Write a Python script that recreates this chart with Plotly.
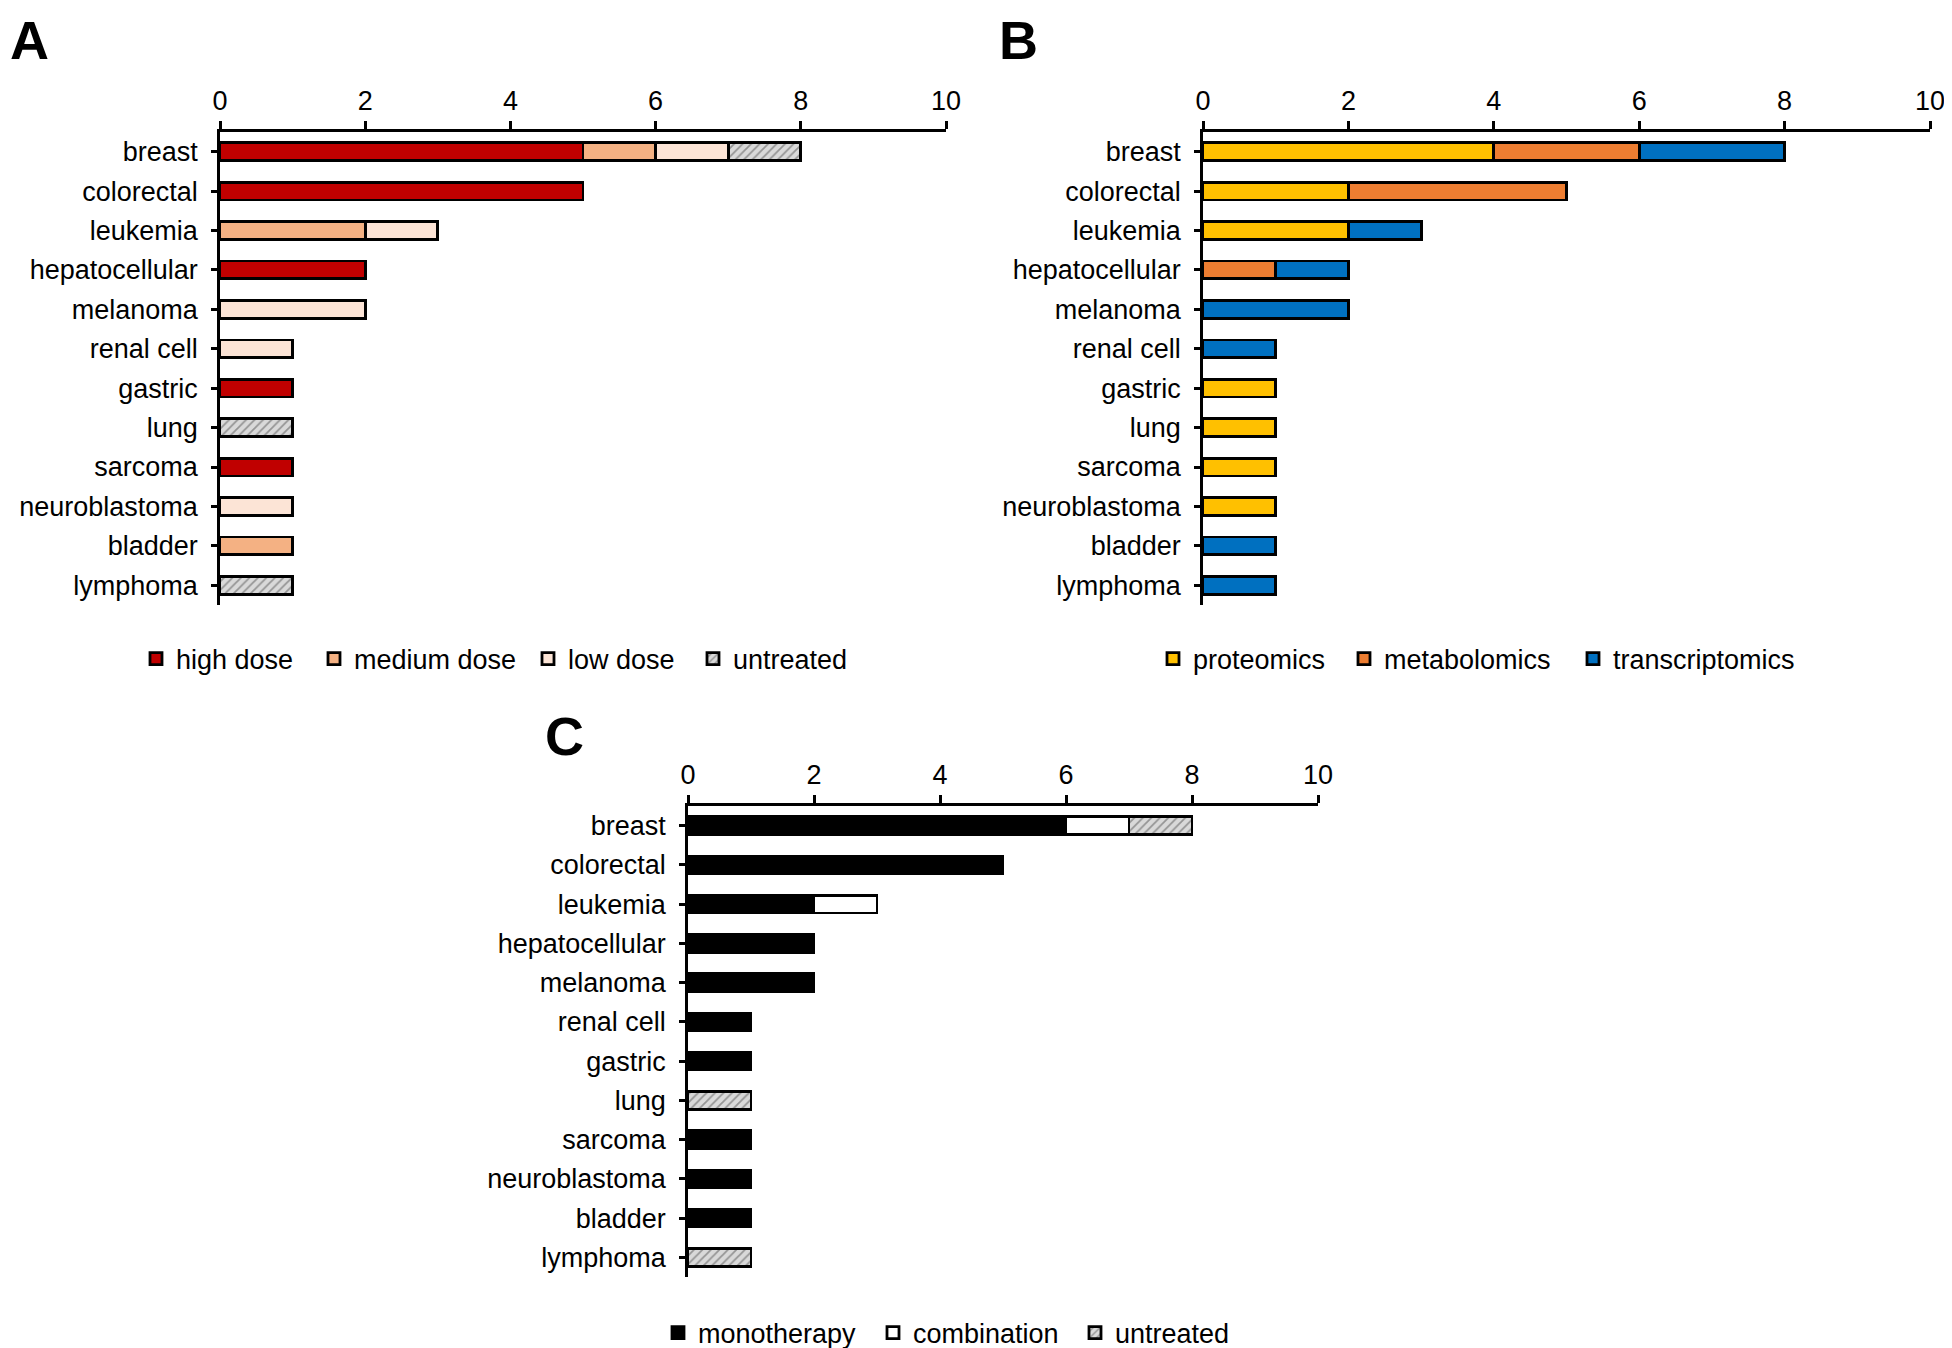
import plotly.graph_objects as go

cancers = ['breast', 'colorectal', 'leukemia', 'hepatocellular', 'melanoma', 'renal cell',
           'gastric', 'lung', 'sarcoma', 'neuroblastoma', 'bladder', 'lymphoma']

# panel A - dose
high_dose = [5, 5, 0, 2, 0, 0, 1, 0, 1, 0, 0, 0]
medium_dose = [1, 0, 2, 0, 0, 0, 0, 0, 0, 0, 1, 0]
low_dose = [1, 0, 1, 0, 2, 1, 0, 0, 0, 1, 0, 0]
untreated_a = [1, 0, 0, 0, 0, 0, 0, 1, 0, 0, 0, 1]

# panel B - omics
proteomics = [4, 2, 2, 0, 0, 0, 1, 1, 1, 1, 0, 0]
metabolomics = [2, 3, 0, 1, 0, 0, 0, 0, 0, 0, 0, 0]
transcriptomics = [2, 0, 1, 1, 2, 1, 0, 0, 0, 0, 1, 1]

# panel C - therapy
monotherapy = [6, 5, 2, 2, 2, 1, 1, 0, 1, 1, 1, 0]
combination = [1, 0, 1, 0, 0, 0, 0, 0, 0, 0, 0, 0]
untreated_c = [1, 0, 0, 0, 0, 0, 0, 1, 0, 0, 0, 1]

x_ticks = [0, 2, 4, 6, 8, 10]

# page body has an 8px margin; the figure is allowed to run past the window edge
PAD = 8
W, H = 1952 - PAD, 1348 - PAD
font = 'Liberation Sans, Arial, sans-serif'
outline = dict(color='black', width=2.8)
hatch = dict(shape='/', fgcolor='#505050', bgcolor='#d9d9d9', size=6, solidity=0.3)


def px(x):
    return (x - PAD) / W


def py(y):
    return 1 - (y - PAD) / H


def nz(vals):
    # zero-length bars would still draw an outline, so drop them
    return [v if v else None for v in vals]


legend_count = 0


def add_bar(fig, name, vals, color, n, key_x, key_y, pattern=None):
    # every legend entry gets its own legend box so it can sit where the original has it
    global legend_count
    legend_count += 1
    leg = 'legend' if legend_count == 1 else 'legend%d' % legend_count
    ax = '' if n == 1 else str(n)
    marker = dict(color=color, line=outline)
    if pattern:
        marker['pattern'] = pattern
    fig.add_trace(go.Bar(
        x=nz(vals), y=cancers, orientation='h', name=name, marker=marker,
        width=0.45, xaxis='x' + ax, yaxis='y' + ax, legend=leg, showlegend=True))
    fig.update_layout({leg: dict(
        orientation='h', yanchor='middle', xanchor='left', x=px(key_x - 23), y=py(key_y),
        bgcolor='rgba(0,0,0,0)', font=dict(size=27, color='black', family=font))})


def axes(fig, n, x0, x1, y0, y1):
    ax = '' if n == 1 else str(n)
    fig.update_layout({
        'xaxis' + ax: dict(domain=[px(x0), px(x1)], range=[0, 10], side='top', anchor='y' + ax,
                           tickvals=x_ticks, showline=True, linecolor='black', linewidth=2.5,
                           ticks='outside', ticklen=8, tickwidth=2.5, tickcolor='black',
                           showgrid=False, zeroline=False, automargin=False,
                           ticklabeloverflow='allow'),
        'yaxis' + ax: dict(domain=[py(y1), py(y0)], anchor='x' + ax, range=[11.5, -0.5],
                           categoryorder='array', categoryarray=cancers,
                           showline=True, linecolor='black', linewidth=2.5,
                           ticks='outside', ticklen=6, tickwidth=2.5, tickcolor='black',
                           showgrid=False, zeroline=False, ticklabelstandoff=8,
                           automargin=False),
    })


def main():
    fig = go.Figure()

    add_bar(fig, 'high dose', high_dose, '#C00000', 1, 159, 659)
    add_bar(fig, 'medium dose', medium_dose, '#F4B183', 1, 337, 659)
    add_bar(fig, 'low dose', low_dose, '#FCE4D6', 1, 551, 659)
    add_bar(fig, 'untreated', untreated_a, '#d9d9d9', 1, 716, 659, hatch)

    add_bar(fig, 'proteomics', proteomics, '#FFC000', 2, 1176, 659)
    add_bar(fig, 'metabolomics', metabolomics, '#ED7D31', 2, 1367, 659)
    add_bar(fig, 'transcriptomics', transcriptomics, '#0070C0', 2, 1596, 659)

    add_bar(fig, 'monotherapy', monotherapy, '#000000', 3, 681, 1333)
    add_bar(fig, 'combination', combination, '#FFFFFF', 3, 896, 1333)
    add_bar(fig, 'untreated', untreated_c, '#d9d9d9', 3, 1098, 1333, hatch)

    axes(fig, 1, 220, 946, 132, 605)
    axes(fig, 2, 1203, 1930, 132, 605)
    axes(fig, 3, 688, 1318, 806, 1277)

    # panel letters, kept inside the figure so they are not clipped
    for label, x, y in [('A', 8, 8), ('B', 997, 8), ('C', 543, 704)]:
        fig.add_annotation(text='<b>' + label + '</b>', x=px(x), y=py(y), xref='paper', yref='paper',
                           xanchor='left', yanchor='top', showarrow=False,
                           font=dict(size=54, color='black', family=font))

    fig.update_layout(
        barmode='stack', width=W, height=H, showlegend=True,
        margin=dict(l=0, r=0, t=0, b=0, autoexpand=False),
        plot_bgcolor='white', paper_bgcolor='white',
        font=dict(family=font, size=27, color='black'),
    )
    fig.write_html('out.html')


if __name__ == '__main__':
    main()
